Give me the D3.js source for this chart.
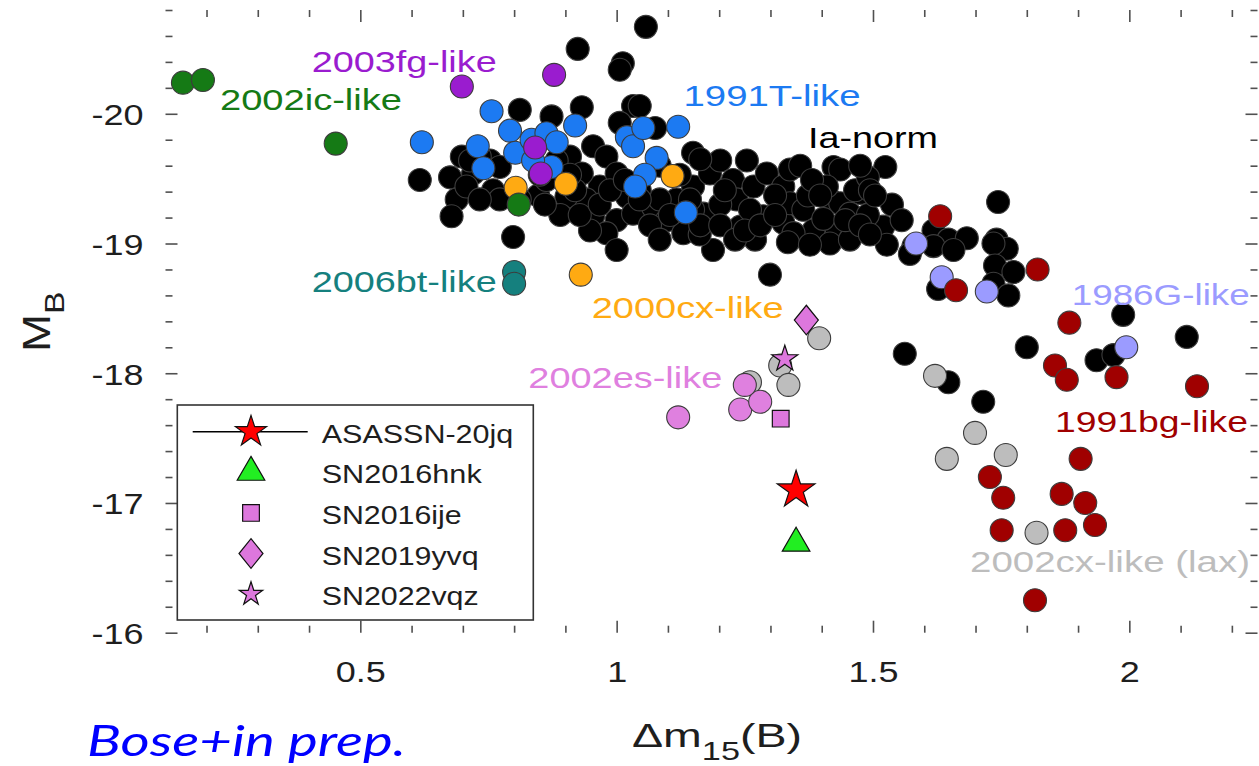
<!DOCTYPE html>
<html>
<head>
<meta charset="utf-8">
<script src="https://cdn.jsdelivr.net/npm/d3@7"></script>
<style>
  html, body { margin: 0; padding: 0; background: #fff; }
  svg { display: block; }
</style>
</head>
<body>
<svg id="chart" width="1259" height="766"></svg>
<script>
// ---- Data: [Δm15(B), M_B] ----
const iaNorm = [
  [1.057,-20.67],[0.924,-20.50],[1.012,-20.39],[1.006,-20.34],[0.811,-20.03],[0.873,-19.98],
  [0.932,-20.05],[1.032,-20.06],[1.045,-20.06],[1.006,-19.93],[1.075,-19.89],[0.616,-19.49],
  [0.675,-19.51],[0.688,-19.34],[0.678,-19.21],[0.698,-19.67],[0.753,-19.64],[0.759,-19.41],
  [0.798,-19.05],[0.847,-19.37],[0.909,-19.67],[0.954,-19.75],[0.980,-19.67],[0.954,-19.21],
  [1.000,-19.18],[0.980,-19.08],[1.000,-18.95],[0.967,-19.44],[0.932,-19.54],[1.000,-19.54],
  [1.020,-19.36],[1.032,-19.23],[1.071,-19.28],[1.098,-19.18],[1.117,-19.34],[1.149,-19.70],
  [1.149,-19.44],[1.169,-19.23],[1.182,-19.54],[1.202,-19.64],[1.227,-19.49],[1.188,-18.95],
  [1.234,-19.34],[1.241,-19.13],[1.267,-19.44],[1.293,-19.54],[1.325,-19.44],[1.286,-19.21],
  [1.325,-19.16],[1.338,-19.31],[1.364,-19.26],[1.390,-19.44],[1.423,-19.59],[1.416,-19.34],
  [1.436,-19.31],[1.429,-19.08],[1.384,-19.10],[1.345,-19.08],[1.130,-19.08],[1.084,-19.34],
  [1.149,-19.26],[0.772,-19.59],[0.720,-19.54],[0.733,-19.67],[0.707,-19.44],[0.811,-19.34],
  [0.863,-19.49],[0.941,-19.34],[0.902,-19.36],[0.883,-19.64],[1.436,-19.57],[1.410,-19.44],
  [1.475,-19.39],[1.455,-19.23],[1.524,-19.59],[1.537,-19.30],[1.520,-19.13],[1.556,-19.18],
  [1.527,-18.99],[1.618,-19.10],[1.647,-19.03],[1.683,-19.04],[1.744,-19.32],[1.741,-19.03],
  [1.761,-18.96],[1.579,-18.98],[1.572,-18.92],[1.618,-18.98],[1.657,-18.95],[1.735,-19.00],
  [1.738,-18.83],[1.774,-18.78],[1.735,-18.69],[1.764,-18.60],[1.627,-18.65],[1.988,-18.45],
  [2.112,-18.28],[1.800,-18.20],[1.562,-18.15],[1.936,-18.10],[1.969,-18.14],[1.647,-17.93],
  [1.715,-17.78],[1.299,-18.76],[1.334,-19.01],[1.416,-19.00],[1.163,-19.65],[1.254,-19.64],
  [1.309,-19.37],[1.373,-19.37],[1.403,-19.19],[1.465,-19.41],[1.490,-19.51],[1.490,-19.22],
  [1.202,-19.30],[1.260,-19.26],[1.123,-19.53],[0.948,-19.10],[0.890,-19.22],[0.850,-19.53],
  [0.772,-19.34],[0.714,-19.64],[0.919,-19.41],[1.045,-19.41],[1.084,-19.60],[1.162,-19.07],
  [1.270,-19.03],[1.377,-18.99],[1.455,-19.03],[1.494,-19.41],
  [0.909,-19.53],[0.928,-19.22],[0.967,-19.30],[0.987,-19.41],[1.016,-19.49],[1.045,-19.34],
  [1.065,-19.14],[1.084,-19.03],[1.104,-19.22],[1.143,-19.34],[1.163,-19.14],[1.202,-19.14],
  [1.231,-19.03],[1.250,-19.10],[1.211,-19.41],[1.280,-19.14],[1.309,-19.22],[1.338,-19.57],
  [1.358,-19.60],[1.381,-19.49],[1.397,-19.37],[1.446,-19.18],[1.475,-19.14],[1.494,-19.07],
  [1.504,-19.37],[1.475,-19.60],[0.860,-19.30],[0.733,-19.34]
];
const like1991T = [
  [0.620,-19.78],[0.756,-20.02],[0.729,-19.75],[0.740,-19.58],[0.792,-19.87],[0.802,-19.70],
  [0.834,-19.80],[0.863,-19.85],[0.883,-19.78],[0.873,-19.59],[0.837,-19.64],[0.919,-19.91],
  [1.020,-19.82],[1.032,-19.75],[1.052,-19.89],[1.078,-19.66],[1.055,-19.53],[1.036,-19.44],
  [1.120,-19.90],[1.135,-19.24]
];
const like2003fg = [[0.698,-20.21],[0.878,-20.30],[0.841,-19.74],[0.852,-19.54]];
const like2002ic = [[0.154,-20.24],[0.193,-20.26],[0.452,-19.77],[0.809,-19.30]];
const like2000cx = [[0.803,-19.43],[0.901,-19.46],[1.109,-19.52],[0.930,-18.76]];
const like2006bt = [[0.800,-18.78],[0.800,-18.69]];
const like1986G  = [[1.584,-19.00],[1.634,-18.74],[1.722,-18.63],[1.994,-18.20]];
const like1991bg = [
  [1.631,-19.21],[1.821,-18.80],[1.662,-18.64],[1.883,-18.39],[1.855,-18.06],[1.878,-17.95],
  [1.975,-17.97],[2.132,-17.90],[1.905,-17.34],[1.728,-17.20],[1.754,-17.04],[1.868,-17.07],
  [1.914,-17.00],[1.751,-16.79],[1.875,-16.79],[1.933,-16.83],[1.816,-16.25]
];
const like2002cx = [
  [1.395,-18.27],[1.319,-18.06],[1.335,-17.91],[1.260,-17.93],[1.621,-17.98],[1.699,-17.54],
  [1.644,-17.34],[1.759,-17.37],[1.819,-16.77]
];
const like2002es = [[1.120,-17.66],[1.241,-17.72],[1.280,-17.78],[1.250,-17.91]];

// individual objects
const objectNames = ["ASASSN-20jq","SN2016hnk","SN2016ije","SN2019yvq","SN2022vqz"];
const objectDm15  = [1.350, 1.350, 1.320, 1.370, 1.328];
const objectMB    = [-17.10, -16.69, -17.65, -18.41, -18.11];

// axis ticks
const xTickValues = [0.5, 1, 1.5, 2];
const xTickLabels = ["0.5", "1", "1.5", "2"];
const yTickValues = [-20, -19, -18, -17, -16];
const yTickLabels = ["-20", "-19", "-18", "-17", "-16"];

// ---- Layout ----
const svg = d3.select("#chart");
const L = 165.5, R = 1257.5, T = 10, B = 632.7;
const x = d3.scaleLinear().domain([0.12, 2.25]).range([L, R]);
const y = d3.scaleLinear().domain([-16, -20.8]).range([B, T]);
const TXT = "'Liberation Sans', Arial, Helvetica, sans-serif";
const INK = "#1e1e1e";
const FRAME = "#505050";

// horizontally widened text (the figure font runs wide)
function wideText(g, str, px, py, size, color, anchor, sx, width) {
  const t = g.append("text")
    .attr("transform", `translate(${px},${py}) scale(${sx},1)`)
    .attr("font-family", TXT).attr("font-size", size)
    .attr("fill", color).attr("text-anchor", anchor || "start")
    .text(str);
  if (width) t.attr("textLength", width / sx).attr("lengthAdjust", "spacingAndGlyphs");
  return t;
}

// ---- Axes (boxed, ticks inward) ----
const axes = svg.append("g");
const xMinor = d3.range(2, 23).map(d => d / 10).filter(v => v >= 0.12 && v <= 2.25 && !xTickValues.some(t => Math.abs(t - v) < 1e-6));
const yMinor = d3.range(-208, -159, 2).map(d => d / 10).filter(v => v <= -16 && v >= -20.8 && !yTickValues.some(t => Math.abs(t - v) < 1e-6));

function tickStyle(g) {
  g.select(".domain").remove();
  g.selectAll(".tick line").attr("stroke", FRAME).attr("stroke-width", 1.6);
}
// bottom major with labels
const xb = axes.append("g").attr("transform", `translate(0,${B})`)
  .call(d3.axisBottom(x).tickValues(xTickValues).tickFormat((d, i) => xTickLabels[i]).tickSize(-12).tickPadding(28));
tickStyle(xb);
xb.selectAll(".tick text").each(function () {
  const t = d3.select(this);
  t.attr("transform", `translate(0,${+t.attr("y")}) scale(1.2,1)`).attr("y", 0);
}).attr("font-family", TXT).attr("font-size", 30).attr("fill", INK).attr("dy", "0.71em");
axes.append("g").attr("transform", `translate(0,${B})`)
  .call(d3.axisBottom(x).tickValues(xMinor).tickFormat("").tickSize(-7)).call(tickStyle);
// top
axes.append("g").attr("transform", `translate(0,${T})`)
  .call(d3.axisTop(x).tickValues(xTickValues).tickFormat("").tickSize(-12)).call(tickStyle);
axes.append("g").attr("transform", `translate(0,${T})`)
  .call(d3.axisTop(x).tickValues(xMinor).tickFormat("").tickSize(-7)).call(tickStyle);
// left major with labels
const yl = axes.append("g").attr("transform", `translate(${L},0)`)
  .call(d3.axisLeft(y).tickValues(yTickValues).tickFormat((d, i) => yTickLabels[i]).tickSize(-12).tickPadding(22));
tickStyle(yl);
yl.selectAll(".tick text").each(function () {
  const t = d3.select(this);
  t.attr("transform", `translate(${+t.attr("x")},0) scale(1.2,1)`).attr("x", 0);
}).attr("font-family", TXT).attr("font-size", 30).attr("fill", INK).attr("dy", "0.36em");
axes.append("g").attr("transform", `translate(${L},0)`)
  .call(d3.axisLeft(y).tickValues(yMinor).tickFormat("").tickSize(-7)).call(tickStyle);
// right
axes.append("g").attr("transform", `translate(${R},0)`)
  .call(d3.axisRight(y).tickValues(yTickValues).tickFormat("").tickSize(-12)).call(tickStyle);
axes.append("g").attr("transform", `translate(${R},0)`)
  .call(d3.axisRight(y).tickValues(yMinor).tickFormat("").tickSize(-7)).call(tickStyle);

// ---- Points ----
const plot = svg.append("g");
const RADIUS = 11.5;
function dots(data, fill) {
  plot.append("g").selectAll("circle").data(data).join("circle")
    .attr("cx", d => x(d[0])).attr("cy", d => y(d[1])).attr("r", RADIUS)
    .attr("fill", fill).attr("stroke", "#3c3c3c").attr("stroke-width", 1.1);
}
dots(iaNorm, "#000000");
dots(like1991T, "#1c7af2");
dots(like2003fg, "#9a1ccf");
dots(like2000cx, "#ffaa12");
dots(like2002ic, "#157a15");
dots(like2006bt, "#15807e");
dots(like1986G, "#9b9bff");
dots(like1991bg, "#a00000");
dots(like2002cx, "#bdbdbd");
dots(like2002es, "#df80df");

// marker shapes
const diamondType = { draw(ctx, size) { const w = Math.sqrt(size) * 0.6, h = Math.sqrt(size) * 0.74;
  ctx.moveTo(0, -h); ctx.lineTo(w, 0); ctx.lineTo(0, h); ctx.lineTo(-w, 0); ctx.closePath(); } };
const markerStyle = [
  { type: d3.symbolStar,     size: 440, fill: "#ff0000" },
  { type: d3.symbolTriangle, size: 330, fill: "#22ee22" },
  { type: d3.symbolSquare,   size: 280, fill: "#dd77dd" },
  { type: diamondType,       size: 400, fill: "#dd77dd" },
  { type: d3.symbolStar,     size: 210, fill: "#dd77dd" }
];
const legendMarker = [
  { size: 300 }, { size: 330 }, { size: 280 }, { size: 400 }, { size: 170 }
];
plot.append("g").selectAll("path").data(objectNames).join("path")
  .attr("transform", (d, i) => `translate(${x(objectDm15[i])},${y(objectMB[i])})`)
  .attr("d", (d, i) => d3.symbol(markerStyle[i].type, markerStyle[i].size)())
  .attr("fill", (d, i) => markerStyle[i].fill).attr("stroke", "#111").attr("stroke-width", 1.2);

// ---- Group labels ----
const groupLabels = [
  { text: "2003fg-like", color: "#9a1ccf", x: 311.7, y: 71.5, w: 185 },
  { text: "2002ic-like", color: "#157a15", x: 220, y: 110, w: 182 },
  { text: "1991T-like", color: "#1c7af2", x: 683.5, y: 106, w: 177 },
  { text: "Ia-norm", color: "#000000", x: 808, y: 148, w: 130 },
  { text: "2006bt-like", color: "#15807e", x: 311.7, y: 291.5, w: 185 },
  { text: "2000cx-like", color: "#ffaa12", x: 591.7, y: 318.3, w: 192 },
  { text: "2002es-like", color: "#df80df", x: 528.3, y: 388.3, w: 194 },
  { text: "1986G-like", color: "#9b9bff", x: 1071.7, y: 305, w: 178 },
  { text: "1991bg-like", color: "#a00000", x: 1055, y: 431.7, w: 193 },
  { text: "2002cx-like (lax)", color: "#bdbdbd", x: 970, y: 571.7, w: 280 }
];
const lab = svg.append("g");
groupLabels.forEach(l => wideText(lab, l.text, l.x, l.y, 30, l.color, "start", 1.25, l.w));

// ---- Legend ----
const leg = svg.append("g");
leg.append("rect").attr("x", 177.3).attr("y", 405).attr("width", 356).attr("height", 215)
  .attr("fill", "#fff").attr("stroke", "#333").attr("stroke-width", 1.6);
const legRowY = i => 431.7 + i * 40.6;
const legWidths = [191.6, 160, 140, 157, 157];
leg.append("line").attr("x1", 192.7).attr("x2", 307.7).attr("y1", legRowY(0)).attr("y2", legRowY(0))
  .attr("stroke", "#000").attr("stroke-width", 1.6);
objectNames.forEach((name, i) => {
  leg.append("path")
    .attr("transform", `translate(251,${legRowY(i)})`)
    .attr("d", d3.symbol(markerStyle[i].type, legendMarker[i].size)())
    .attr("fill", markerStyle[i].fill).attr("stroke", "#111").attr("stroke-width", 1.2);
  wideText(leg, name, 321.7, legRowY(i) + 11, 26, INK, "start", 1.18, legWidths[i]);
});

// ---- Axis titles ----
const xt = svg.append("text")
  .attr("x", 632).attr("y", 747)
  .attr("font-family", TXT).attr("font-size", 34).attr("fill", INK)
  .attr("textLength", 170).attr("lengthAdjust", "spacingAndGlyphs");
xt.append("tspan").text("Δm");
xt.append("tspan").attr("dy", 13).attr("font-size", 25).text("15");
xt.append("tspan").attr("dy", -13).text("(B)");

const yt = svg.append("text")
  .attr("transform", "translate(50,352) rotate(-90) scale(1.2,1)")
  .attr("font-family", TXT).attr("font-size", 38).attr("fill", INK);
yt.append("tspan").text("M");
yt.append("tspan").attr("dy", 14).attr("font-size", 28).text("B");

// ---- Citation note ----
svg.append("text").attr("x", 87).attr("y", 756)
  .attr("font-family", "Lato, 'Open Sans', sans-serif").attr("font-style", "italic")
  .attr("font-size", 42).attr("fill", "#0000ff")
  .attr("textLength", 319).attr("lengthAdjust", "spacingAndGlyphs")
  .text("Bose+in prep.");
</script>
</body>
</html>
